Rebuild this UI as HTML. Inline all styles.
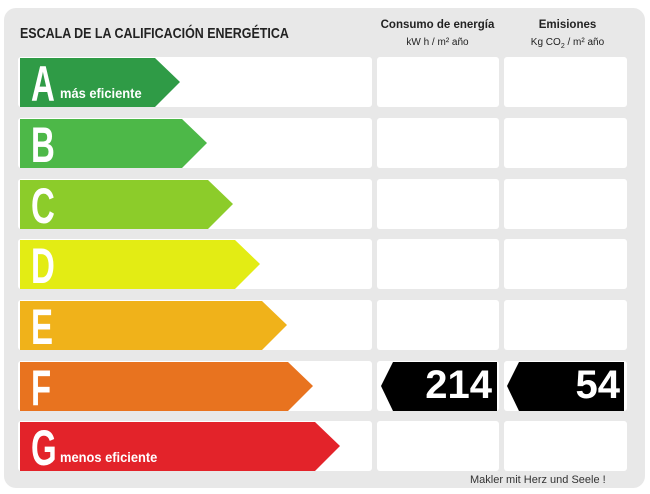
<!DOCTYPE html>
<html><head><meta charset="utf-8"><style>
body{margin:0;width:650px;height:494px;background:#fff;position:relative;overflow:hidden;font-family:"Liberation Sans",sans-serif}
.panel{position:absolute;left:4px;top:8px;width:641px;height:480px;background:#e8e8e8;border-radius:12px}
.bar{position:absolute;left:20px;height:49px}
.L{position:absolute;left:11px;top:1px;color:#fff;font-weight:bold;font-size:50px;line-height:50px;transform:scaleX(.66);transform-origin:left}
.sub{position:absolute;left:40px;bottom:6px;color:#fff;font-weight:bold;font-size:14px;white-space:nowrap;transform:scaleX(.92);transform-origin:left}
.h{position:absolute;font-weight:bold;color:#222;text-align:center}
.val{position:absolute;color:#fff;font-weight:bold;font-size:40px;text-align:right}
</style></head><body>
<div class="panel"></div>
<div class="h" style="left:20px;top:25px;font-size:15px;transform:scaleX(.83);transform-origin:left;white-space:nowrap">ESCALA DE LA CALIFICACIÓN ENERGÉTICA</div>
<div class="h" style="left:370px;top:17px;width:135px;font-size:11.5px;line-height:17px">Consumo de energía<br><span style="font-size:10px;font-weight:normal">kW h / m² año</span></div>
<div class="h" style="left:500px;top:17px;width:135px;font-size:11.5px;line-height:17px">Emisiones<br><span style="font-size:10px;font-weight:normal">Kg CO<sub style="font-size:7px">2</sub> / m² año</span></div>
<svg width="650" height="494" style="position:absolute;left:0;top:0">
<g fill="#fff">
<rect x="18" y="57" width="354" height="50" rx="3"/><rect x="377" y="57" width="122" height="50" rx="3"/><rect x="504" y="57" width="123" height="50" rx="3"/>
<rect x="18" y="118" width="354" height="50" rx="3"/><rect x="377" y="118" width="122" height="50" rx="3"/><rect x="504" y="118" width="123" height="50" rx="3"/>
<rect x="18" y="179" width="354" height="50" rx="3"/><rect x="377" y="179" width="122" height="50" rx="3"/><rect x="504" y="179" width="123" height="50" rx="3"/>
<rect x="18" y="239" width="354" height="50" rx="3"/><rect x="377" y="239" width="122" height="50" rx="3"/><rect x="504" y="239" width="123" height="50" rx="3"/>
<rect x="18" y="300" width="354" height="50" rx="3"/><rect x="377" y="300" width="122" height="50" rx="3"/><rect x="504" y="300" width="123" height="50" rx="3"/>
<rect x="18" y="361" width="354" height="50" rx="3"/><rect x="377" y="361" width="122" height="50" rx="3"/><rect x="504" y="361" width="123" height="50" rx="3"/>
<rect x="18" y="421" width="354" height="50" rx="3"/><rect x="377" y="421" width="122" height="50" rx="3"/><rect x="504" y="421" width="123" height="50" rx="3"/>
</g>
<polygon fill="#2f9b46" points="20,58 155,58 180,82 155,107 20,107"/>
<polygon fill="#4db848" points="20,119 182,119 207,143 182,168 20,168"/>
<polygon fill="#8ccc2a" points="20,180 208,180 233,204 208,229 20,229"/>
<polygon fill="#e3ec14" points="20,240 235,240 260,264 235,289 20,289"/>
<polygon fill="#f0b21a" points="20,301 262,301 287,325 262,350 20,350"/>
<polygon fill="#e8731f" points="20,362 288,362 313,386 288,411 20,411"/>
<polygon fill="#e3232a" points="20,422 315,422 340,446 315,471 20,471"/>
<polygon fill="#000" points="393,362 497,362 497,411 393,411 381,386"/>
<polygon fill="#000" points="519,362 624,362 624,411 519,411 507,386"/>
</svg>
<div class="bar" style="top:58px"><span class="L">A</span><span class="sub">más eficiente</span></div>
<div class="bar" style="top:119px"><span class="L">B</span></div>
<div class="bar" style="top:180px"><span class="L">C</span></div>
<div class="bar" style="top:240px"><span class="L">D</span></div>
<div class="bar" style="top:301px"><span class="L">E</span></div>
<div class="bar" style="top:362px"><span class="L">F</span></div>
<div class="bar" style="top:422px"><span class="L">G</span><span class="sub">menos eficiente</span></div>
<div class="val" style="left:395px;top:363px;width:97px">214</div>
<div class="val" style="left:520px;top:363px;width:100px">54</div>
<div style="position:absolute;left:470px;top:474px;font-size:11px;color:#333">Makler mit Herz und Seele !</div>
</body></html>
